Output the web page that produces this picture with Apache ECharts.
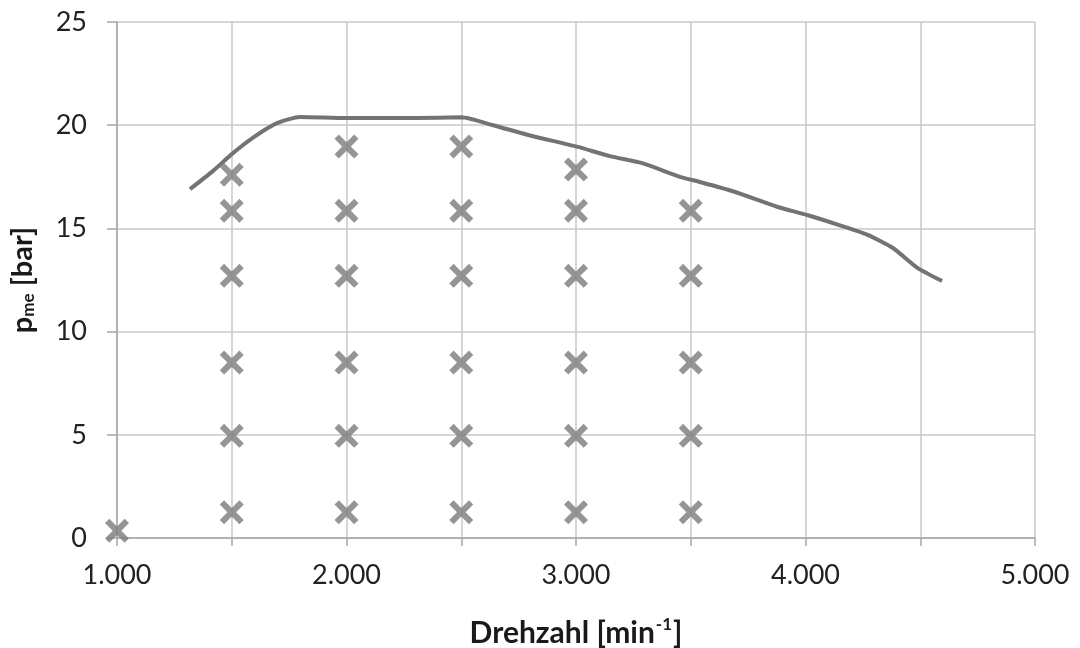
<!DOCTYPE html>
<html>
<head>
<meta charset="utf-8">
<script src="https://cdn.jsdelivr.net/npm/echarts@6/dist/echarts.min.js"></script>
<style>html,body{margin:0;padding:0;background:#fff;}#c{width:1080px;height:648px;}</style>
</head>
<body>
<div id="c"></div>
<script>
// Full-load curve (Drehzahl, p_me)
const fullLoadRpm = [1318, 1420, 1500, 1593, 1697, 1797, 2000, 2300, 2500, 2638, 2800, 3004, 3148, 3292, 3453, 3540, 3684, 3876, 4007, 4150, 4268, 4381, 4486, 4595];
const fullLoadPme = [16.9, 17.8, 18.6, 19.4, 20.1, 20.4, 20.35, 20.35, 20.38, 20.0, 19.5, 18.96, 18.5, 18.15, 17.5, 17.25, 16.8, 16.05, 15.65, 15.15, 14.7, 14.05, 13.1, 12.45];
// Operating points
const pointRpm = [1000,
  1500, 1500, 1500, 1500, 1500, 1500,
  2000, 2000, 2000, 2000, 2000, 2000,
  2500, 2500, 2500, 2500, 2500, 2500,
  3000, 3000, 3000, 3000, 3000, 3000,
  3500, 3500, 3500, 3500, 3500];
const pointPme = [0.35,
  1.25, 4.95, 8.5, 12.7, 15.85, 17.6,
  1.25, 4.95, 8.5, 12.7, 15.85, 18.97,
  1.25, 4.95, 8.5, 12.7, 15.85, 18.97,
  1.25, 4.95, 8.5, 12.7, 15.85, 17.85,
  1.25, 4.95, 8.5, 12.7, 15.85];

const xTickLabels = {1000: '1.000', 2000: '2.000', 3000: '3.000', 4000: '4.000', 5000: '5.000'};
const yTickLabels = [0, 5, 10, 15, 20, 25];

const chart = echarts.init(document.getElementById('c'), null, {renderer: 'canvas'});
const font = 'Lato, "Open Sans", sans-serif';
const xPath = 'path://M0,3.6 L3.6,0 L10,6.4 L16.4,0 L20,3.6 L13.6,10 L20,16.4 L16.4,20 L10,13.6 L3.6,20 L0,16.4 L6.4,10 Z';

chart.setOption({
  animation: false,
  backgroundColor: '#ffffff',
  grid: {left: 117, right: 45, top: 22, bottom: 110, containLabel: false, outerBoundsMode: 'none'},
  xAxis: {
    type: 'value', min: 1000, max: 5000, interval: 500,
    name: '{b|Drehzahl [min}{s|-1}{b|]}',
    nameLocation: 'middle', nameGap: 78,
    nameTextStyle: {rich: {
      b: {fontFamily: font, fontSize: 30, fontWeight: 'bold', color: '#1a1a1a', lineHeight: 34},
      s: {fontFamily: font, fontSize: 17, fontWeight: 'bold', color: '#1a1a1a', verticalAlign: 'top', lineHeight: 34, padding: [0, 1, 14, 1]}
    }},
    axisLine: {show: true, lineStyle: {color: '#a6a6a6', width: 1.5}},
    axisTick: {show: true, length: 8, lineStyle: {color: '#a6a6a6', width: 1.5}},
    axisLabel: {
      fontFamily: font, fontSize: 27, color: '#222', margin: 24,
      formatter: v => xTickLabels[v] || ''
    },
    splitLine: {show: true, lineStyle: {color: '#c8c8c8', width: 1.5}}
  },
  yAxis: {
    type: 'value', min: 0, max: 25, interval: 5,
    name: '{b|p}{s|me}{b| [bar]}',
    nameLocation: 'middle', nameGap: 80, nameRotate: 90,
    nameTextStyle: {rich: {
      b: {fontFamily: font, fontSize: 29, fontWeight: 'bold', color: '#1a1a1a'},
      s: {fontFamily: font, fontSize: 17, fontWeight: 'bold', color: '#1a1a1a', verticalAlign: 'bottom', padding: [10, 0, 0, 0]}
    }},
    axisLine: {show: true, lineStyle: {color: '#a6a6a6', width: 1.5}},
    axisTick: {show: true, length: 10, lineStyle: {color: '#a6a6a6', width: 1.5}},
    axisLabel: {
      fontFamily: font, fontSize: 27, color: '#222', margin: 30,
      formatter: v => yTickLabels.indexOf(v) >= 0 ? String(v) : ''
    },
    splitLine: {show: true, lineStyle: {color: '#c8c8c8', width: 1.5}}
  },
  series: [
    {
      type: 'line',
      data: fullLoadRpm.map((x, i) => [x, fullLoadPme[i]]),
      showSymbol: false, smooth: 0.2,
      lineStyle: {color: '#737373', width: 4},
      z: 3
    },
    {
      type: 'scatter',
      data: pointRpm.map((x, i) => [x, pointPme[i]]),
      symbol: xPath, symbolSize: 24,
      itemStyle: {color: '#7a7a7a'},
      z: 4
    }
  ]
});
</script>
</body>
</html>
